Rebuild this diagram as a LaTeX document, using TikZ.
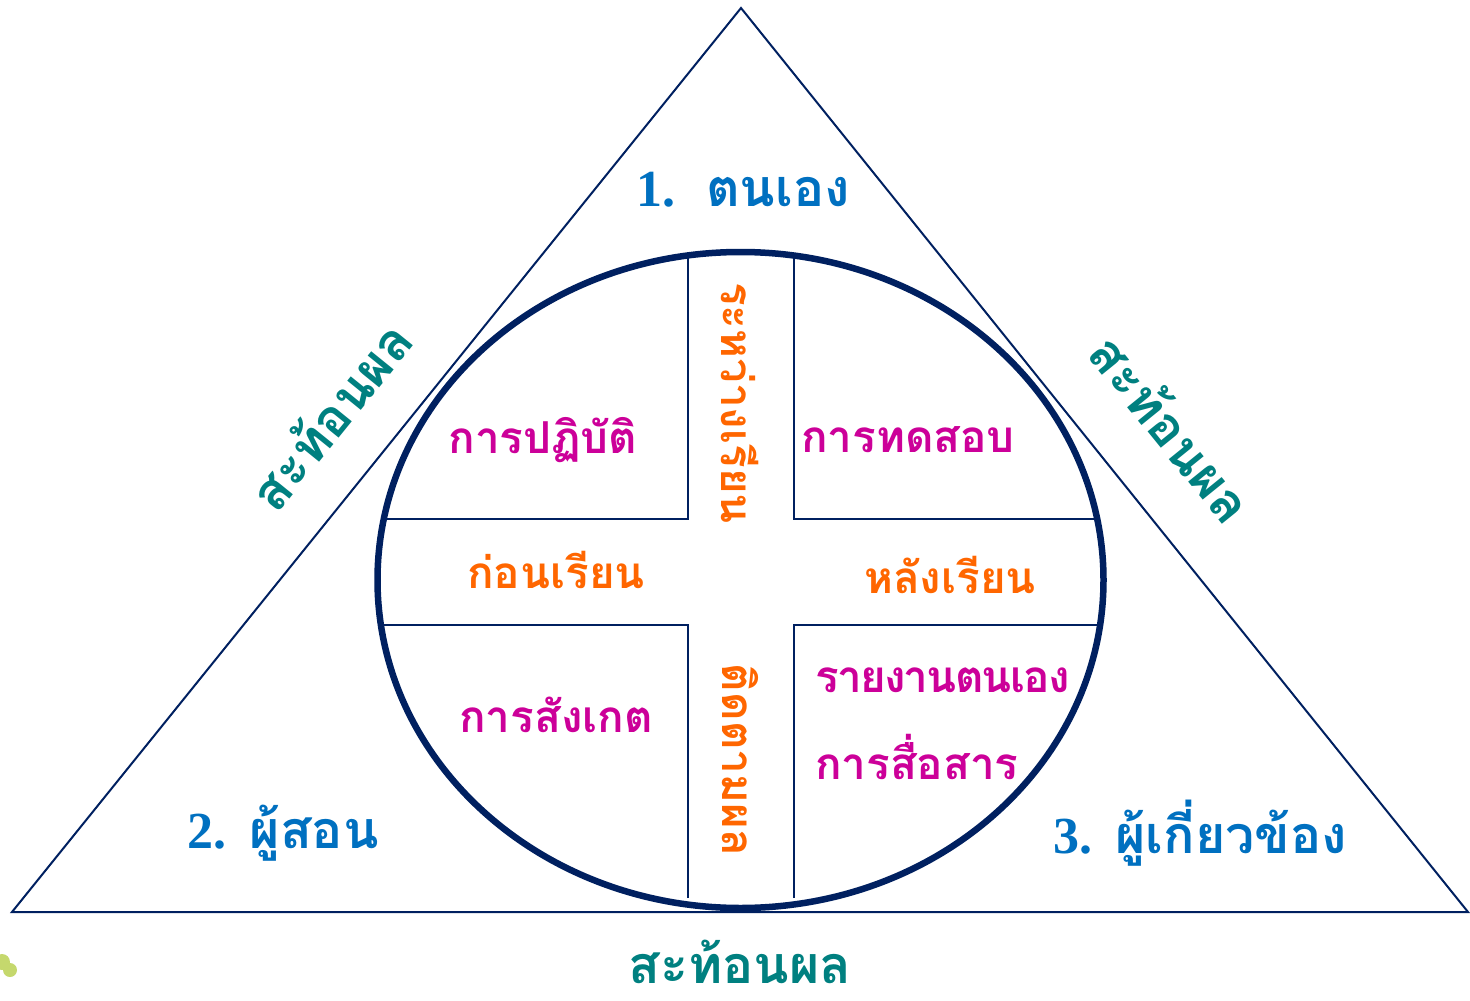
\documentclass[tikz,border=0pt]{standalone}
\usepackage{fontspec}
\newfontfamily\thaifont[Script=Thai]{Loma}
\newfontfamily\numfont{Liberation Serif}
\definecolor{tblue}{HTML}{0070C0}
\definecolor{tteal}{HTML}{008080}
\definecolor{tmag}{HTML}{CC0099}
\definecolor{torange}{HTML}{FF6600}
\definecolor{tnavy}{HTML}{002060}
\definecolor{tgreen}{HTML}{C5D86D}
\begin{document}
\begin{tikzpicture}[x=1pt,y=-1pt,
  title/.style={font=\thaifont\bfseries\fontsize{52}{60}\selectfont, text=tblue, inner sep=0pt},
  refl/.style={font=\thaifont\bfseries\fontsize{52}{60}\selectfont, text=tteal, inner sep=0pt},
  method/.style={font=\thaifont\bfseries\fontsize{44}{50}\selectfont, text=tmag, inner sep=0pt},
  phase/.style={font=\thaifont\bfseries\fontsize{44}{50}\selectfont, text=torange, inner sep=0pt},
  crossline/.style={draw=tnavy, line width=1.5pt},
]
\useasboundingbox (0,0) rectangle (1470,1001);
% decorative blob
\fill[tgreen] (2,962) circle (8) (10,970) circle (7);
% triangle
\coordinate (T) at (741,8);
\coordinate (L) at (12,912);
\coordinate (R) at (1468,912);
\draw[tnavy, line width=2pt, line join=miter] (T) -- (L) -- (R) -- cycle;
% cross
\coordinate (v1a) at (688,256); \coordinate (v1b) at (688,519);
\coordinate (v2a) at (794,256); \coordinate (v2b) at (794,519);
\coordinate (v3a) at (688,625); \coordinate (v3b) at (688,898);
\coordinate (v4a) at (794,625); \coordinate (v4b) at (794,898);
\coordinate (h1a) at (384,519); \coordinate (h2b) at (1099,519);
\coordinate (h3a) at (384,625); \coordinate (h4b) at (1099,625);
\draw[crossline] (v1a) -- (v1b) -- (h1a);
\draw[crossline] (v2a) -- (v2b) -- (h2b);
\draw[crossline] (v3b) -- (v3a) -- (h3a);
\draw[crossline] (v4b) -- (v4a) -- (h4b);
% ellipse
\coordinate (ctr) at (740.5,580);
\draw[tnavy, line width=6.5pt] (ctr) ellipse [x radius=363, y radius=328];
% titles
\node[title] (t1) at (743,190) {{\numfont 1.}\hspace{0.6em}ตนเอง};
\node[title] (t2) at (283,833) {{\numfont 2.} ผู้สอน};
\node[title] (t3) at (1200,833) {{\numfont 3.} ผู้เกี่ยวข้อง};
% reflection
\node[refl] (rb) at (740,962) {สะท้อนผล};
\node[refl, rotate=51] (rl) at (330,415) {สะท้อนผล};
\node[refl, rotate=-51] (rr) at (1172,428) {สะท้อนผล};
% methods
\node[method] (m1) at (543,440) {การปฏิบัติ};
\node[method] (m2) at (908,440) {การทดสอบ};
\node[method] (m3) at (556,715) {การสังเกต};
\node[method, anchor=west] (m4) at (815,680) {\addfontfeature{LetterSpace=-4}รายงานตนเอง};
\node[method, anchor=west] (m5) at (815,757) {การสื่อสาร};
% phases
\node[phase] (p1) at (556,570) {ก่อนเรียน};
\node[phase] (p2) at (950,575) {หลังเรียน};
\node[phase, rotate=-90] (p3) at (740,403) {ระหว่างเรียน};
\node[phase, rotate=-90] (p4) at (740,760) {ติดตามผล};
\end{tikzpicture}
\end{document}
